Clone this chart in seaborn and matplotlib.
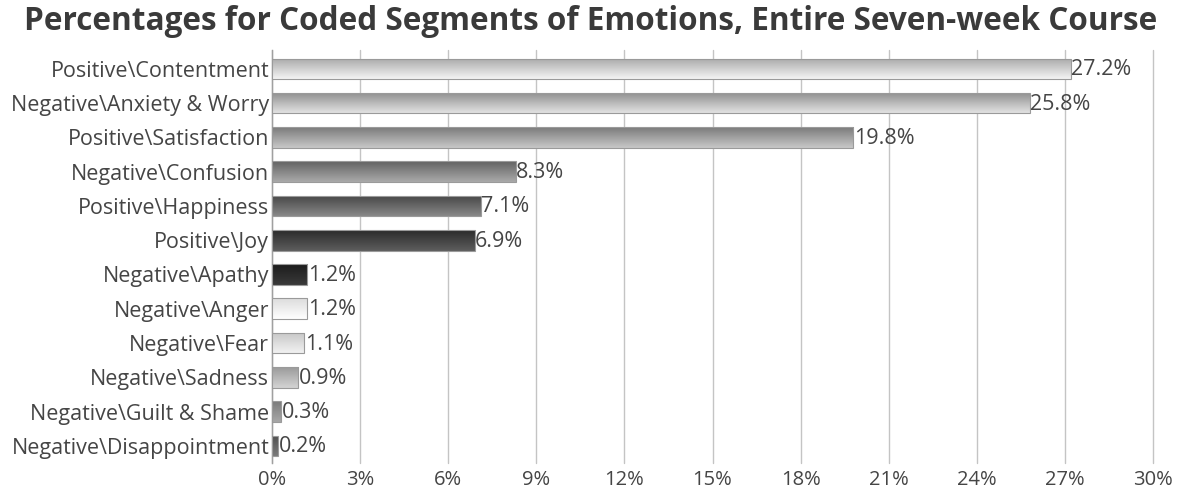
import numpy as np
import pandas as pd
import matplotlib
matplotlib.use("Agg")
import matplotlib.pyplot as plt
import seaborn as sns
from matplotlib.colors import LinearSegmentedColormap
from matplotlib.ticker import FuncFormatter

categories = [
    "Positive\\Contentment",
    "Negative\\Anxiety & Worry",
    "Positive\\Satisfaction",
    "Negative\\Confusion",
    "Positive\\Happiness",
    "Positive\\Joy",
    "Negative\\Apathy",
    "Negative\\Anger",
    "Negative\\Fear",
    "Negative\\Sadness",
    "Negative\\Guilt & Shame",
    "Negative\\Disappointment",
]
percentages = [27.2, 25.8, 19.8, 8.3, 7.1, 6.9, 1.2, 1.2, 1.1, 0.9, 0.3, 0.2]
x_ticks = [0, 3, 6, 9, 12, 15, 18, 21, 24, 27, 30]
title = "Percentages for Coded Segments of Emotions, Entire Seven-week Course"

# gradient styles (top colour, bottom colour) per bar
gradients = [
    ("#a9a9a9", "#f4f4f4"),
    ("#8e8e8e", "#e2e2e2"),
    ("#7a7a7a", "#c8c8c8"),
    ("#626262", "#aaaaaa"),
    ("#454545", "#888888"),
    ("#2a2a2a", "#5e5e5e"),
    ("#1c1c1c", "#3a3a3a"),
    ("#dcdcdc", "#ffffff"),
    ("#c6c6c6", "#f2f2f2"),
    ("#9a9a9a", "#d4d4d4"),
    ("#7a7a7a", "#a8a8a8"),
    ("#505050", "#7a7a7a"),
]

sns.set_theme(style="white")
plt.rcParams["font.family"] = ["Open Sans", "DejaVu Sans"]
text_color = "#454545"

df = pd.DataFrame({"category": categories, "pct": percentages})

fig = plt.figure(figsize=(11.81, 4.96), dpi=100)
ax = fig.add_axes([272 / 1181, 1 - 463 / 496, (1153 - 272) / 1181, (463 - 50) / 496])

sns.barplot(data=df, x="pct", y="category", orient="h", ax=ax,
            color="white", width=0.6, edgecolor="none", zorder=3)

grad = np.linspace(0, 1, 256).reshape(-1, 1)
for patch, (top, bot), val in zip(ax.patches, gradients, percentages):
    x0, y0 = patch.get_x(), patch.get_y()
    w, h = patch.get_width(), patch.get_height()
    cmap = LinearSegmentedColormap.from_list("g", [top, bot])
    im = ax.imshow(grad, cmap=cmap, aspect="auto", zorder=4,
                   extent=(x0, x0 + w, y0 + h, y0), origin="upper")
    im.set_clip_path(patch)
    patch.set_edgecolor("#9a9a9a")
    patch.set_linewidth(0.8)
    patch.set_facecolor("none")
    patch.set_zorder(5)
    ax.text(x0 + w + 0.02, y0 + h / 2 + 0.03, f"{val}%", va="center", ha="left",
            fontsize=15.5, color=text_color, zorder=6)

ax.set_xlim(0, 30)
ax.set_ylim(len(categories) - 0.5, -0.55)
ax.set_xticks(x_ticks)
ax.xaxis.set_major_formatter(FuncFormatter(lambda v, p: f"{int(v)}%"))
ax.grid(axis="x", color="#c4c4c4", linewidth=1.0, zorder=0)
ax.grid(axis="y", visible=False)
ax.set_axisbelow(True)
for gl in ax.get_xgridlines():
    gl.set_clip_on(False)
for s in ["top", "right", "bottom"]:
    ax.spines[s].set_visible(False)
ax.spines["left"].set_color("#a0a0a0")
ax.spines["left"].set_linewidth(1.0)
ax.set_xlabel("")
ax.set_ylabel("")
ax.tick_params(axis="x", labelsize=14.5, colors=text_color, length=0, pad=5)
ax.tick_params(axis="y", labelsize=15.5, colors=text_color, length=0, pad=2)

fig.text(0.5, 1 - 22 / 496, title, ha="center", va="center", fontsize=22.7,
         fontweight="bold", color="#3a3a3a")

fig.savefig("out.png", dpi=100)
